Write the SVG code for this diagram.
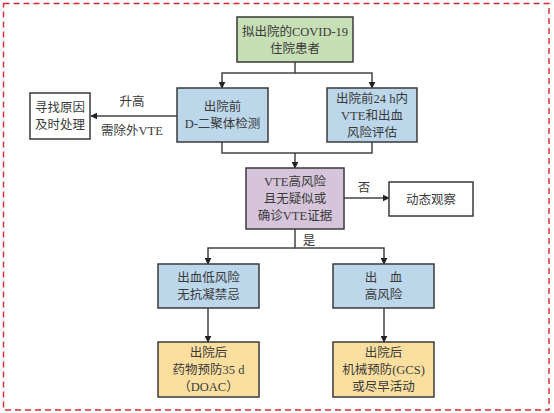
<svg xmlns="http://www.w3.org/2000/svg" width="554" height="413" viewBox="0 0 554 413">
<defs>
<style>
.box{stroke:#3a3a3a;stroke-width:1.5}
.g{fill:#c6dfb5}.b{fill:#bcd6ea}.p{fill:#d6c5da}.y{fill:#fbdf9f}.w{fill:#fff}
text{font-family:"Liberation Serif","Noto Sans CJK SC",serif;font-size:12.5px;fill:#3a3a3a;text-anchor:middle}
.c{fill:none;stroke:#444;stroke-width:1.5}
</style>
<marker id="ah" viewBox="0 0 10 10" refX="9" refY="5" markerWidth="7" markerHeight="7" markerUnits="userSpaceOnUse" orient="auto">
<path d="M0,0 L10,5 L0,10 Z" fill="#222"/>
</marker>
</defs>
<rect x="3.5" y="3.5" width="545.5" height="406.5" fill="none" stroke="#d6282e" stroke-width="1.4" stroke-dasharray="6,4"/>
<g id="connectors">
<path class="c" d="M295,62 V73 H222 V88" marker-end="url(#ah)"/>
<path class="c" d="M295,73 H372 V88" marker-end="url(#ah)"/>
<path class="c" d="M177,116 H91" marker-end="url(#ah)"/>
<path class="c" d="M222,142 V153 H372 V142"/>
<path class="c" d="M295,153 V168" marker-end="url(#ah)"/>
<path class="c" d="M344,198 H389" marker-end="url(#ah)"/>
<path class="c" d="M295,229 V248 H208 V264" marker-end="url(#ah)"/>
<path class="c" d="M295,248 H384 V264" marker-end="url(#ah)"/>
<path class="c" d="M208,308 V342" marker-end="url(#ah)"/>
<path class="c" d="M384,308 V342" marker-end="url(#ah)"/>
<text x="132" y="106">升高</text>
<text x="132" y="134.5">需除外VTE</text>
<text x="364" y="192">否</text>
<text x="309" y="245">是</text>
</g>
<g id="n1"><rect class="box g" x="237" y="17" width="116" height="45"/><text x="295" y="35.5">拟出院的COVID-19</text><text x="295" y="52.5">住院患者</text></g>
<g id="n2"><rect class="box b" x="177" y="88" width="91" height="54"/><text x="222.5" y="111">出院前</text><text x="222.5" y="128">D-二聚体检测</text></g>
<g id="n3"><rect class="box b" x="327" y="88" width="90" height="54"/><text x="372" y="102.5">出院前24 h内</text><text x="372" y="119.5">VTE和出血</text><text x="372" y="136.5">风险评估</text></g>
<g id="n4"><rect class="box w" x="30" y="93" width="60" height="46"/><text x="60" y="112">寻找原因</text><text x="60" y="129">及时处理</text></g>
<g id="n5"><rect class="box p" x="246" y="168" width="98" height="61"/><text x="295" y="186">VTE高风险</text><text x="295" y="203">且无疑似或</text><text x="295" y="220">确诊VTE证据</text></g>
<g id="n6"><rect class="box w" x="389" y="182" width="84" height="34"/><text x="431" y="203.5">动态观察</text></g>
<g id="n7"><rect class="box b" x="158" y="264" width="101" height="44"/><text x="208.5" y="282">出血低风险</text><text x="208.5" y="299">无抗凝禁忌</text></g>
<g id="n8"><rect class="box b" x="333" y="264" width="101" height="44"/><text x="383.5" y="282">出　血</text><text x="383.5" y="299">高风险</text></g>
<g id="n9"><rect class="box y" x="158" y="342" width="101" height="55"/><text x="208.5" y="357">出院后</text><text x="208.5" y="374">药物预防35 d</text><text x="208.5" y="391">（DOAC）</text></g>
<g id="n10"><rect class="box y" x="333" y="342" width="101" height="55"/><text x="383.5" y="357">出院后</text><text x="383.5" y="374">机械预防(GCS)</text><text x="383.5" y="391">或尽早活动</text></g>
</svg>
